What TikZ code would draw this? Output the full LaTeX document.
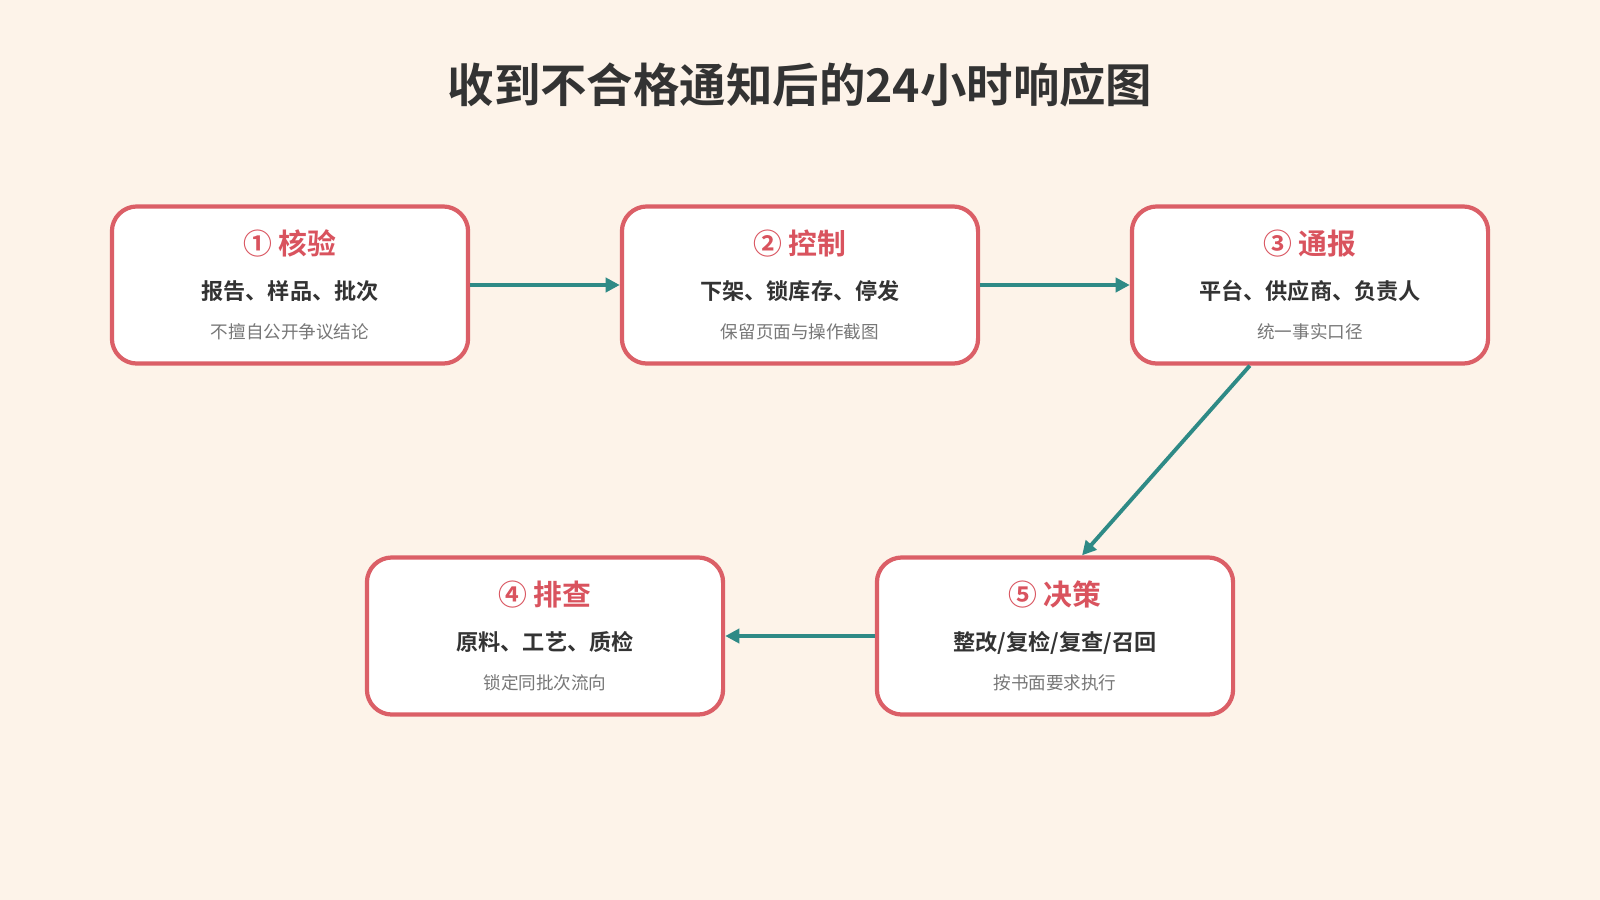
\documentclass[tikz,border=0pt]{standalone}
\usepackage{fontspec}
\setmainfont{Noto Sans CJK SC}
\newfontfamily\cjkbold{Noto Sans CJK SC Bold}
\usetikzlibrary{arrows.meta,calc}
\definecolor{bgcol}{HTML}{FDF3E9}
\definecolor{boxline}{HTML}{DB5F67}
\definecolor{headred}{HTML}{D9535E}
\definecolor{teal}{HTML}{2E8A86}
\definecolor{ink}{HTML}{333333}
\definecolor{subgray}{HTML}{777777}
\tikzstyle{stepbox}=[draw=boxline,line width=1.2pt,fill=white,rounded corners=0.25cm,minimum width=3.56cm,minimum height=1.57cm,inner sep=0pt,align=center]
\tikzstyle{flow}=[draw=teal,line width=1.1pt,-{Triangle[length=4pt,width=4pt]}]
\newcommand{\steptext}[3]{{\cjkbold\fontsize{8.2}{10}\selectfont\color{headred}#1}\\[0.7pt]{\cjkbold\fontsize{6.3}{8}\selectfont\color{ink}#2}\\[-1pt]{\fontsize{5}{7}\selectfont\color{subgray}#3}}

\begin{document}
\begin{tikzpicture}[x=0.01cm,y=-0.01cm]
      \fill[bgcol] (0,0) rectangle (1600,900);
      \node[text=ink] (title) at (800,85) {\cjkbold\fontsize{13.2}{16}\selectfont 收到不合格通知后的24小时响应图};
      \node[stepbox] (s1) at (290,285) {\steptext{① 核验}{报告、样品、批次}{不擅自公开争议结论}};
      \node[stepbox] (s2) at (800,285) {\steptext{② 控制}{下架、锁库存、停发}{保留页面与操作截图}};
      \node[stepbox] (s3) at (1310,285) {\steptext{③ 通报}{平台、供应商、负责人}{统一事实口径}};
      \node[stepbox] (s4) at (545,636) {\steptext{④ 排查}{原料、工艺、质检}{锁定同批次流向}};
      \node[stepbox] (s5) at (1055,636) {\steptext{⑤ 决策}{整改/复检/复查/召回}{按书面要求执行}};
      \draw[flow] (s1) to (s2);
      \draw[flow] (s2) to (s3);
      \draw[flow] ($(s3.south west)!0.333!(s3.south east)$) to ($(s5.north west)!0.575!(s5.north east)$);
      \draw[flow] (s5) to (s4);
    \end{tikzpicture}
\end{document}
